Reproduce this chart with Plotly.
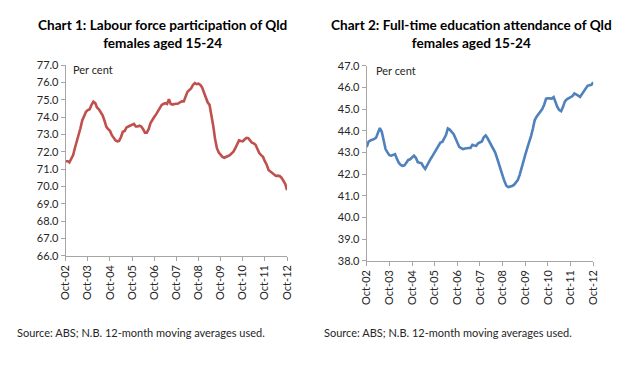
import plotly.graph_objects as go
import pandas as pd

# Monthly dates Oct-2002 .. Oct-2012
dates = pd.date_range("2002-10-01", "2012-10-01", freq="MS")

# Chart 1: Labour force participation of Qld females aged 15-24 (per cent)
lfp = [71.45, 71.45, 71.38, 71.55, 71.8, 72.2, 72.55, 72.9, 73.35, 73.8,
       74.1, 74.3, 74.4, 74.45, 74.7, 74.88, 74.8, 74.55, 74.45, 74.25,
       74.1, 73.8, 73.45, 73.3, 73.2, 72.95, 72.8, 72.65, 72.6, 72.62,
       72.85, 73.15, 73.2, 73.4, 73.45, 73.5, 73.52, 73.6, 73.45, 73.45,
       73.5, 73.45, 73.3, 73.1, 73.1, 73.3, 73.65, 73.85, 74.0, 74.15,
       74.35, 74.55, 74.7, 74.75, 74.8, 74.75, 75.02, 74.75, 74.72, 74.75,
       74.75, 74.78, 74.85, 74.9, 74.9, 75.15, 75.45, 75.55, 75.65, 75.85,
       75.96, 75.9, 75.92, 75.85, 75.7, 75.4, 75.05, 74.85, 74.7, 74.2,
       73.5, 72.75, 72.2, 71.95, 71.82, 71.7, 71.65, 71.68, 71.75, 71.8,
       71.9, 72.0, 72.2, 72.45, 72.65, 72.62, 72.6, 72.7, 72.8, 72.78,
       72.65, 72.52, 72.48, 72.4, 72.15, 71.92, 71.8, 71.7, 71.45, 71.25,
       70.95, 70.85, 70.8, 70.65, 70.6, 70.62, 70.6, 70.5, 70.35, 70.15,
       69.78]

# Chart 2: Full-time education attendance of Qld females aged 15-24 (per cent)
fte = [43.24, 43.5, 43.55, 43.58, 43.62, 43.68, 43.95, 44.12, 43.95, 43.5,
       43.15, 43.0, 42.87, 42.85, 42.9, 42.92, 42.7, 42.52, 42.42, 42.38,
       42.4, 42.55, 42.65, 42.68, 42.75, 42.85, 42.75, 42.55, 42.52, 42.5,
       42.35, 42.24, 42.4, 42.58, 42.72, 42.86, 43.0, 43.1, 43.3, 43.45,
       43.48, 43.62, 43.8, 44.1, 44.05, 43.95, 43.85, 43.65, 43.45, 43.25,
       43.2, 43.15, 43.18, 43.2, 43.2, 43.2, 43.35, 43.32, 43.3, 43.42,
       43.47, 43.5, 43.7, 43.78, 43.65, 43.5, 43.35, 43.2, 43.0, 42.75,
       42.5, 42.25, 41.92, 41.65, 41.45, 41.4, 41.42, 41.45, 41.5, 41.6,
       41.72, 41.95, 42.3, 42.6, 42.9, 43.2, 43.45, 43.75, 44.1, 44.48,
       44.65, 44.78, 44.9, 45.0, 45.2, 45.48, 45.5, 45.5, 45.48, 45.55,
       45.3, 45.1, 44.95, 44.9, 45.1, 45.35, 45.45, 45.5, 45.55, 45.6,
       45.72, 45.65, 45.62, 45.56, 45.7, 45.85, 45.95, 46.07, 46.1, 46.12,
       46.23]

tick_dates = pd.date_range("2002-10-01", "2012-10-01", freq="12MS")
tick_text = [d.strftime("%b-%y") for d in tick_dates]

FONT = "Lato, Carlito, Calibri, sans-serif"
TXT = "#262626"
AX = "#A6A6A6"
W, H = 640, 367
OFF = 8  # page body margin offset

fig = go.Figure()
fig.add_trace(go.Scatter(x=dates, y=lfp, mode="lines", xaxis="x", yaxis="y",
                         line=dict(color="#C0504D", width=2.6), showlegend=False))
fig.add_trace(go.Scatter(x=dates, y=fte, mode="lines", xaxis="x2", yaxis="y2",
                         line=dict(color="#4F81BD", width=2.6), showlegend=False))

xcommon = dict(type="date", range=[dates[0], dates[-1]], tickvals=tick_dates,
               ticktext=tick_text, tickangle=-90, showgrid=False, zeroline=False,
               showline=True, linecolor=AX, linewidth=1, ticks="outside",
               ticklen=4, tickcolor=AX, automargin=False,
               tickfont=dict(family=FONT, size=11, color=TXT))
ycommon = dict(showgrid=False, zeroline=False, showline=True, linecolor=AX,
               linewidth=1, ticks="outside", ticklen=4, tickcolor=AX, dtick=1,
               tickformat=".1f", automargin=False,
               tickfont=dict(family=FONT, size=11, color=TXT))

def px_x(p):
    return (p - OFF) / W

def px_y(p):
    return 1 - (p - OFF) / H

fig.update_layout(
    width=W, height=H,
    margin=dict(l=0, r=0, t=0, b=0, autoexpand=False),
    paper_bgcolor="white", plot_bgcolor="white",
    xaxis=dict(domain=[px_x(65.7), px_x(287)], anchor="y", **xcommon),
    yaxis=dict(domain=[px_y(255.7), px_y(65)], anchor="x", range=[66, 77], tick0=66, **ycommon),
    xaxis2=dict(domain=[px_x(366.7), px_x(593.3)], anchor="y2", **xcommon),
    yaxis2=dict(domain=[px_y(260.7), px_y(65.7)], anchor="x2", range=[38, 47], tick0=38, **ycommon),
)

titles = [
    ("<b>Chart 1: Labour force participation of Qld<br>females aged 15-24</b>", 162.5, 34),
    ("<b>Chart 2: Full-time education attendance of Qld<br>females aged 15-24</b>", 471, 34),
]
for text, x, y in titles:
    fig.add_annotation(text=text, x=px_x(x), y=px_y(y), xref="paper", yref="paper",
                       xanchor="center", yanchor="middle", showarrow=False, align="center",
                       font=dict(family=FONT, size=13.6, color="#000000"))

labels = [
    ("Per cent", 71, 69, 11),
    ("Per cent", 374, 71, 11),
    ("Source: ABS; N.B. 12-month moving averages used.", 15, 332, 11),
    ("Source: ABS; N.B. 12-month moving averages used.", 322, 332, 11),
]
for text, x, y, s in labels:
    fig.add_annotation(text=text, x=px_x(x), y=px_y(y), xref="paper", yref="paper",
                       xanchor="left", yanchor="middle", showarrow=False,
                       font=dict(family=FONT, size=s, color=TXT))

fig.write_html("out.html")
